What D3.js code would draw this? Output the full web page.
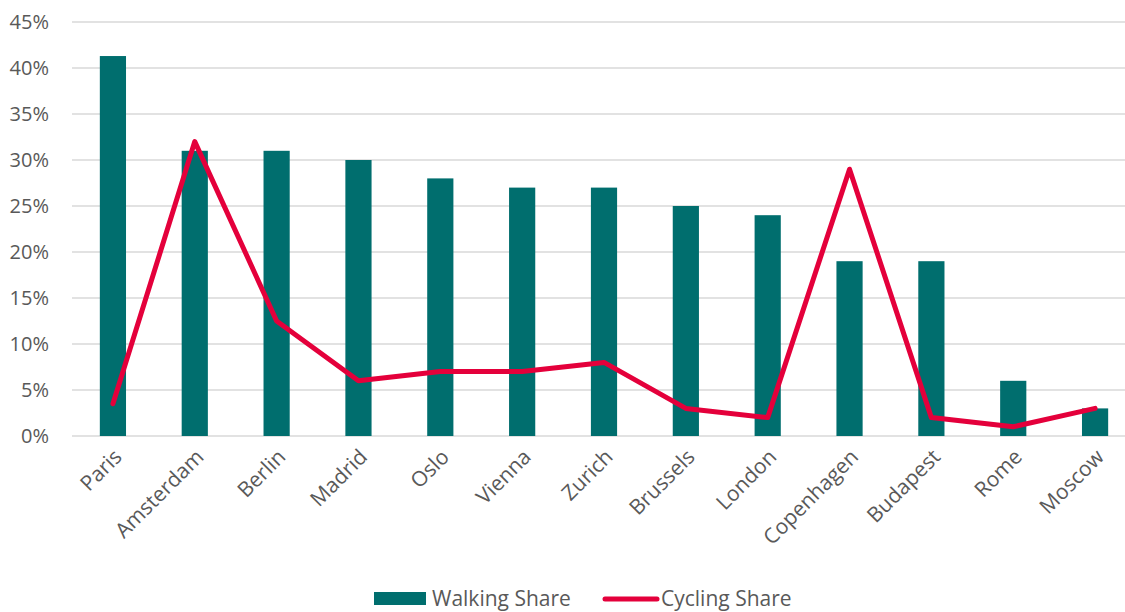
<!DOCTYPE html>
<html>
<head>
<meta charset="utf-8">
<script src="https://cdn.jsdelivr.net/npm/d3@7"></script>
<style>
  body { margin: 0; background: #fff; }
  text { font-family: "Open Sans", sans-serif; fill: #595959; }
</style>
</head>
<body>
<svg id="chart" width="1125" height="612"></svg>
<script>
var cities = ["Paris", "Amsterdam", "Berlin", "Madrid", "Oslo", "Vienna", "Zurich", "Brussels", "London", "Copenhagen", "Budapest", "Rome", "Moscow"];
var walkingShare = [41.3, 31, 31, 30, 28, 27, 27, 25, 24, 19, 19, 6, 3];
var cyclingShare = [3.5, 32, 12.5, 6, 7, 7, 8, 3, 2, 29, 2, 1, 3];
var yTicks = [0, 5, 10, 15, 20, 25, 30, 35, 40, 45];

var svg = d3.select("#chart");

var x = d3.scaleBand()
	.domain(cities)
	.range([72, 1136])
	.paddingInner(0.68)
	.paddingOuter(0.34);

var y = d3.scaleLinear()
	.domain([0, 45])
	.range([436, 22]);

// gridlines
svg.append("g")
	.selectAll("line")
	.data(yTicks)
	.join("line")
	.attr("x1", 72)
	.attr("x2", 1125)
	.attr("y1", function(d) { return y(d); })
	.attr("y2", function(d) { return y(d); })
	.attr("stroke", "#d9d9d9")
	.attr("stroke-width", 1.5);

// y axis labels
var yAxis = d3.axisLeft(y)
	.tickValues(yTicks)
	.tickSize(0)
	.tickPadding(0)
	.tickFormat(function(d) { return d + "%"; });

svg.append("g")
	.attr("transform", "translate(49,0)")
	.call(yAxis)
	.call(function(g) { g.select(".domain").remove(); })
	.selectAll("text")
	.style("font-family", "'Open Sans', sans-serif")
	.style("font-size", "20px")
	.attr("fill", "#595959");

// bars
svg.append("g")
	.selectAll("rect")
	.data(cities)
	.join("rect")
	.attr("x", function(d) { return x(d); })
	.attr("width", x.bandwidth())
	.attr("y", function(d, i) { return y(walkingShare[i]); })
	.attr("height", function(d, i) { return y(0) - y(walkingShare[i]); })
	.attr("fill", "#006e6e");

// line
var line = d3.line()
	.x(function(d, i) { return x(cities[i]) + x.bandwidth() / 2; })
	.y(function(d) { return y(d); });

svg.append("path")
	.datum(cyclingShare)
	.attr("d", line)
	.attr("fill", "none")
	.attr("stroke", "#e4003b")
	.attr("stroke-width", 5)
	.attr("stroke-linejoin", "round")
	.attr("stroke-linecap", "round");

// x axis labels
var xAxis = d3.axisBottom(x).tickSize(0).tickPadding(0);

svg.append("g")
	.attr("transform", "translate(0,453)")
	.call(xAxis)
	.call(function(g) { g.select(".domain").remove(); })
	.selectAll("text")
	.style("font-size", "21px")
	.attr("fill", "#595959")
	.attr("text-anchor", "end")
	.attr("dy", "0.35em")
	.attr("transform", "translate(5,0) rotate(-45)");

// legend
var legend = svg.append("g");
legend.append("rect")
	.attr("x", 374).attr("y", 592)
	.attr("width", 52).attr("height", 13)
	.attr("fill", "#006e6e");
legend.append("text")
	.attr("x", 432).attr("y", 606)
	.style("font-size", "21px")
	.text("Walking Share");
legend.append("line")
	.attr("x1", 605).attr("x2", 657)
	.attr("y1", 599).attr("y2", 599)
	.attr("stroke", "#e4003b")
	.attr("stroke-width", 5)
	.attr("stroke-linecap", "round");
legend.append("text")
	.attr("x", 661).attr("y", 606)
	.style("font-size", "21px")
	.text("Cycling Share");
</script>
</body>
</html>
